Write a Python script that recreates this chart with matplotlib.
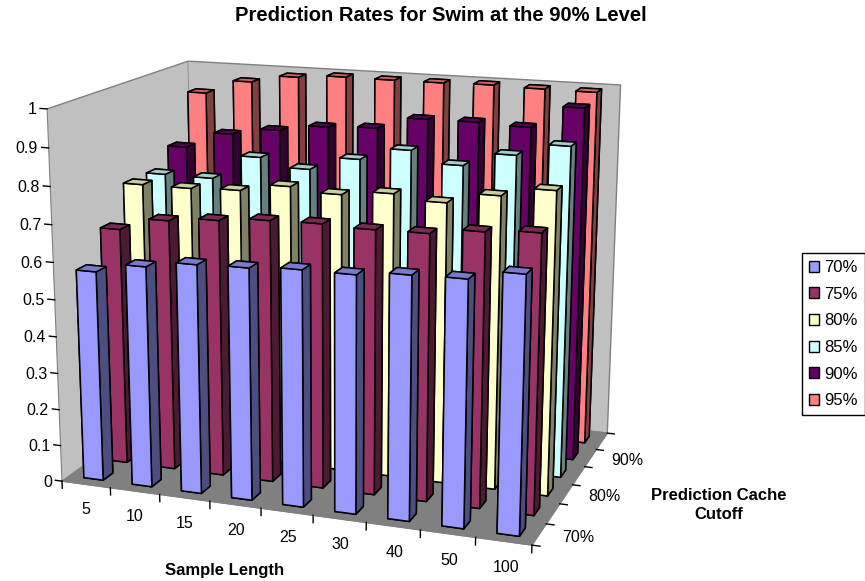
import numpy as np, matplotlib
matplotlib.use('Agg')
import matplotlib.pyplot as plt
from matplotlib.patches import Patch
from matplotlib.colors import to_rgb

plt.rcParams['font.family'] = ['Liberation Sans', 'DejaVu Sans']

sample_lengths = ['5', '10', '15', '20', '25', '30', '40', '50', '100']
cutoffs = ['70%', '75%', '80%', '85%', '90%', '95%']
cutoff_ticks = ['70%', '80%', '90%']
z_ticks = [0, .1, .2, .3, .4, .5, .6, .7, .8, .9, 1]
z_labels = ['0', '0.1', '0.2', '0.3', '0.4', '0.5', '0.6', '0.7', '0.8', '0.9', '1']

rate_70 = [0.573, 0.599, 0.617, 0.621, 0.629, 0.629, 0.641, 0.644, 0.669]
rate_75 = [0.653, 0.688, 0.700, 0.711, 0.714, 0.710, 0.712, 0.728, 0.737]
rate_80 = [0.745, 0.745, 0.750, 0.771, 0.760, 0.773, 0.760, 0.789, 0.813]
rate_85 = [0.745, 0.744, 0.812, 0.789, 0.826, 0.860, 0.829, 0.866, 0.899]
rate_90 = [0.795, 0.841, 0.861, 0.879, 0.885, 0.918, 0.919, 0.914, 0.974]
rate_95 = [0.927, 0.967, 0.988, 0.996, 0.995, 0.995, 0.997, 0.994, 0.993]
rates = [rate_70, rate_75, rate_80, rate_85, rate_90, rate_95]
colors = ['#9999FF', '#993366', '#FFFFCC', '#CCFFFF', '#660066', '#FF8080']

W, H = 865, 581
fig = plt.figure(figsize=(W / 100, H / 100), dpi=100)
ax = fig.add_subplot(projection='3d', computed_zorder=False)
s, cx, cy = 665.979, 335.297, 289.898
ax.set_position([(cx - s / 2) / W, (H - cy - s / 2) / H, s / W, s / H])
ax.set_xlim(0, 9, view_margin=0)
ax.set_ylim(0, 6, view_margin=0)
ax.set_zlim(0, 1, view_margin=0)
ax.view_init(elev=14.984, azim=-70.313, roll=-0.032)
ax.set_proj_type('persp', focal_length=0.533)
ax.set_box_aspect((1.283, 0.866, 1))
ax.patch.set_alpha(0)
ax.grid(False)

for axis, col in [(ax.xaxis, '#C0C0C0'), (ax.yaxis, '#C0C0C0'), (ax.zaxis, '#808080')]:
    axis.set_pane_color(to_rgb(col))
    axis.pane.set_edgecolor('#808080')
    axis.pane.set_linewidth(1)
    axis.line.set_color('#808080')
    axis._axinfo['tick']['inward_factor'] = 0
    axis._axinfo['tick']['outward_factor'] = 0

ax.set_xticks(np.arange(len(sample_lengths)) + 0.6, sample_lengths)
ax.set_yticks([0.8, 2.8, 4.8], cutoff_ticks, ha='left', va='bottom')
ax.set_zticks(z_ticks, z_labels, ha='right', va='center')
ax.zaxis.set_ticks_position('lower')
ax.tick_params(axis='x', labelsize=11.5, colors='black', pad=1)
ax.tick_params(axis='y', labelsize=11.5, colors='black', pad=1.5)
ax.tick_params(axis='z', labelsize=11.5, colors='black', pad=-3.7)

w = 0.4
for i in range(len(cutoffs) - 1, -1, -1):
    c = np.array(to_rgb(colors[i]))
    face = [c, c * 0.8, c, c * 0.5, c * 0.5, c * 0.5]
    for j, v in enumerate(rates[i]):
        ax.bar3d(j + 0.3, i + 0.3, 0, w, w, v, color=face, shade=False,
                 edgecolor='black', linewidth=1.1,
                 zorder=10 * (len(cutoffs) - i) + j)

for j in range(len(sample_lengths) + 1):
    ax.plot([j, j], [0, 0], [0, -0.02], color='black', lw=1, zorder=1, clip_on=False)
for i in range(len(cutoffs) + 1):
    ax.plot([9, 9.14], [i, i], [0, 0], color='black', lw=1, zorder=1, clip_on=False)
for z in z_ticks:
    ax.plot([0, -0.14], [0, 0], [z, z], color='black', lw=1, zorder=1, clip_on=False)

fig.text(441 / W, 1 - 15.5 / H, 'Prediction Rates for Swim at the 90% Level',
         ha='center', va='center', fontsize=14.5, fontweight='bold')
fig.text(225 / W, 1 - 571 / H, 'Sample Length', ha='center', va='center',
         fontsize=12, fontweight='bold')
fig.text(719 / W, 1 - 505 / H, 'Prediction Cache\nCutoff', ha='center', va='center',
         fontsize=12, fontweight='bold', linespacing=1.4)

handles = [Patch(facecolor=col, edgecolor='black', linewidth=1) for col in colors]
fig.legend(handles, cutoffs, loc='upper left', bbox_to_anchor=(802 / W, 1 - 253 / H),
           borderaxespad=0, fancybox=False, edgecolor='black', framealpha=1,
           fontsize=12, labelspacing=0.7, handlelength=0.62, handleheight=0.62,
           handletextpad=0.3, borderpad=0.42)

fig.savefig('out.png', dpi=100)
